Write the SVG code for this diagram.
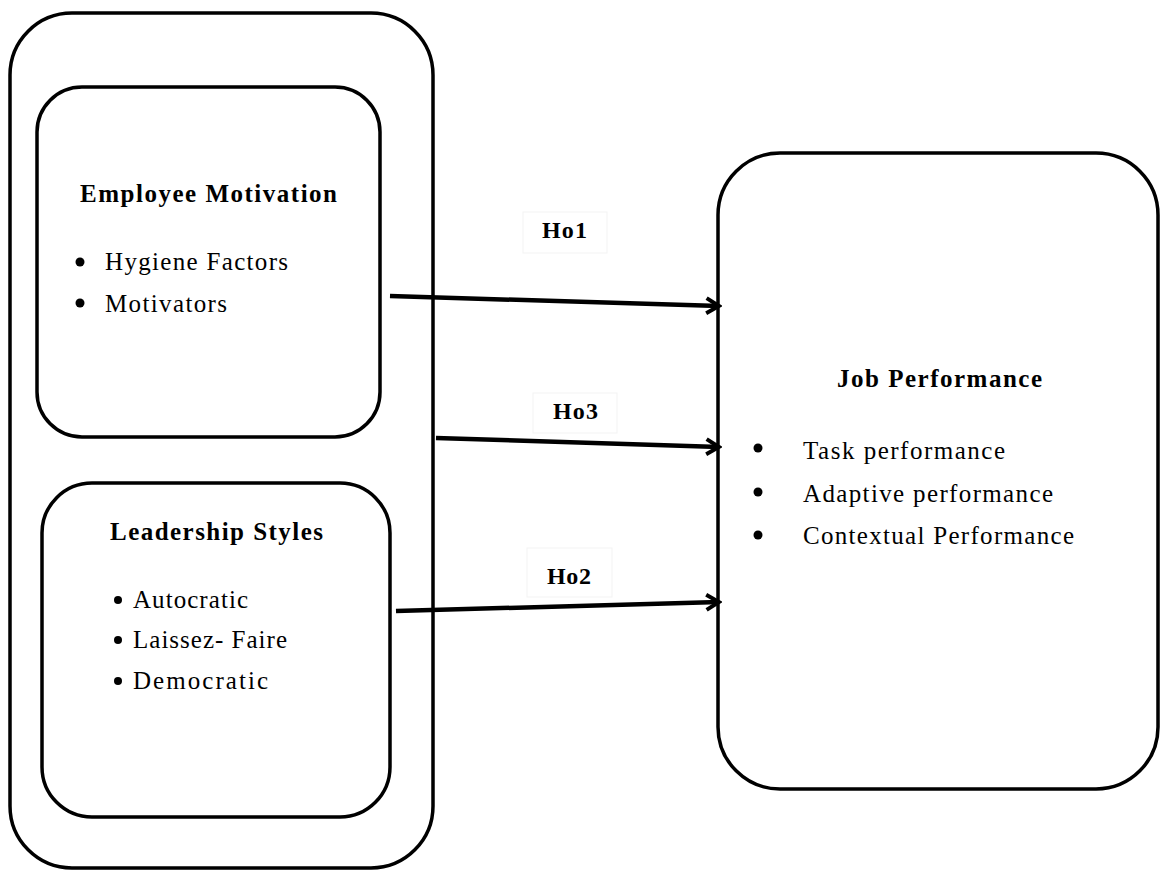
<svg xmlns="http://www.w3.org/2000/svg" width="1162" height="871" viewBox="0 0 1162 871">
  <defs>
    <style>
      .box { fill: none; stroke: #000; stroke-width: 3.5; }
      .lblbox { fill: #fff; stroke: #f3f3f3; stroke-width: 1; }
      .head { font-family: "Liberation Serif", "Times New Roman", serif; font-size: 25px; font-weight: bold; fill: #000; }
      .item { font-family: "Liberation Serif", "Times New Roman", serif; font-size: 25px; fill: #000; }
      .lbl { font-family: "Liberation Serif", "Times New Roman", serif; font-size: 24px; font-weight: bold; fill: #000; }
      .bullet { fill: #000; }
      .conn { fill: none; stroke: #000; stroke-width: 4.5; marker-end: url(#chev); }
    </style>
    <marker id="chev" viewBox="0 0 10 10" refX="8.5" refY="5" markerUnits="userSpaceOnUse" markerWidth="18" markerHeight="22" orient="auto">
      <polyline points="1.5,0.8 8.5,5 1.5,9.2" fill="none" stroke="#000" stroke-width="2.2" stroke-linejoin="miter"/>
    </marker>
  </defs>

  <rect width="1162" height="871" fill="#fff"/>

  <!-- outer grouping frame -->
  <g id="frame">
    <rect class="box" x="10" y="13" width="423" height="855" rx="62" ry="62"/>
  </g>

  <!-- employee motivation -->
  <g id="employee-motivation">
    <rect class="box" x="37" y="87" width="343" height="350" rx="45" ry="45"/>
    <text class="head" x="80" y="202" textLength="257" lengthAdjust="spacing">Employee Motivation</text>
    <circle class="bullet" cx="80" cy="262" r="4.5"/>
    <text class="item" x="105" y="270" textLength="183" lengthAdjust="spacing">Hygiene Factors</text>
    <circle class="bullet" cx="80" cy="303" r="4.5"/>
    <text class="item" x="105" y="312" textLength="122" lengthAdjust="spacing">Motivators</text>
  </g>

  <!-- leadership styles -->
  <g id="leadership-styles">
    <rect class="box" x="42" y="483" width="348" height="334" rx="50" ry="50"/>
    <text class="head" x="110" y="540" textLength="213" lengthAdjust="spacing">Leadership Styles</text>
    <circle class="bullet" cx="118" cy="600" r="4"/>
    <text class="item" x="133" y="608" textLength="115" lengthAdjust="spacing">Autocratic</text>
    <circle class="bullet" cx="118" cy="640" r="4"/>
    <text class="item" x="133" y="648" textLength="154" lengthAdjust="spacing">Laissez- Faire</text>
    <circle class="bullet" cx="118" cy="681" r="4"/>
    <text class="item" x="133" y="689" textLength="135" lengthAdjust="spacing">Democratic</text>
  </g>

  <!-- job performance -->
  <g id="job-performance">
    <rect class="box" x="718" y="153" width="440" height="636" rx="62" ry="62"/>
    <text class="head" x="837" y="387" textLength="205" lengthAdjust="spacing">Job Performance</text>
    <circle class="bullet" cx="758" cy="448" r="4.5"/>
    <text class="item" x="803" y="459" textLength="202" lengthAdjust="spacing">Task performance</text>
    <circle class="bullet" cx="758" cy="492" r="4.5"/>
    <text class="item" x="803" y="502" textLength="250" lengthAdjust="spacing">Adaptive performance</text>
    <circle class="bullet" cx="758" cy="535" r="4.5"/>
    <text class="item" x="803" y="544" textLength="271" lengthAdjust="spacing">Contextual Performance</text>
  </g>

  <!-- hypothesis connectors -->
  <g id="connectors">
    <path class="conn" d="M390,296 L719,306"/>
    <path class="conn" d="M436,438 L719,447"/>
    <path class="conn" d="M396,611 L719,602"/>
  </g>

  <!-- hypothesis labels -->
  <g id="label-ho1">
    <rect class="lblbox" x="523" y="212" width="84" height="41"/>
    <text class="lbl" x="542" y="238" textLength="45" lengthAdjust="spacing">Ho1</text>
  </g>
  <g id="label-ho3">
    <rect class="lblbox" x="533" y="393" width="84" height="40"/>
    <text class="lbl" x="553" y="419" textLength="45" lengthAdjust="spacing">Ho3</text>
  </g>
  <g id="label-ho2">
    <rect class="lblbox" x="527" y="548" width="85" height="49"/>
    <text class="lbl" x="547" y="584" textLength="44" lengthAdjust="spacing">Ho2</text>
  </g>
</svg>
